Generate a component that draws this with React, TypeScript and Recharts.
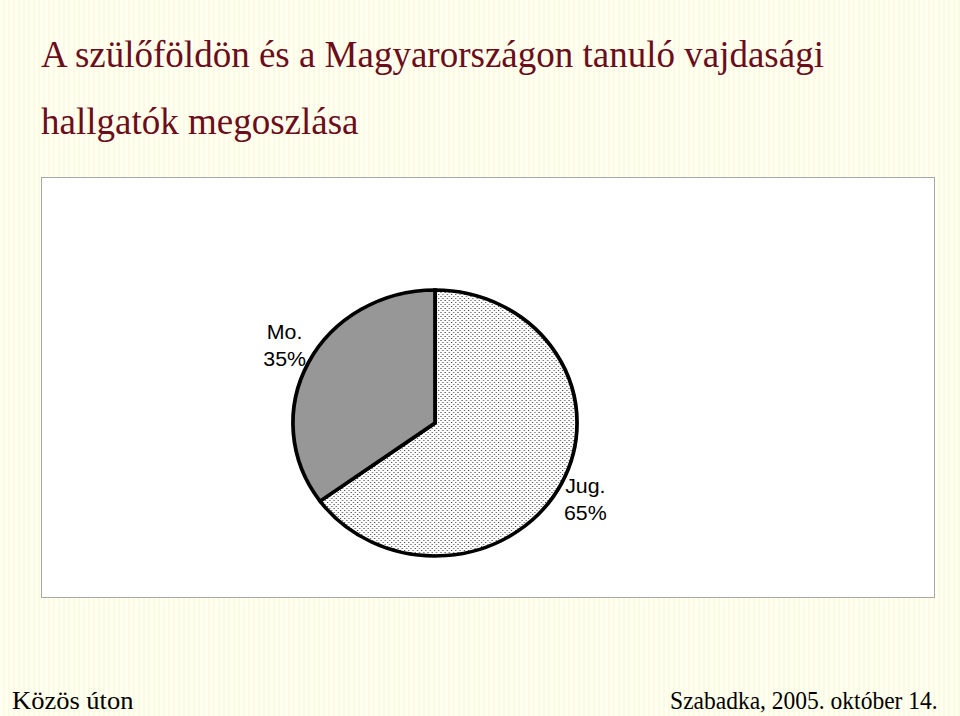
import React from 'react';
import { PieChart, Pie, Cell } from 'recharts';

// share of students from Vojvodina by place of study
const sliceNames = ['Jug.', 'Mo.'];
const sliceValues = [65, 35];
const sliceFills = ['url(#dotFill)', '#979797'];

const titleLines = ['A szülőföldön és a Magyarországon tanuló vajdasági', 'hallgatók megoszlása'];
const footerLeft = 'Közös úton';
const footerRight = 'Szabadka, 2005. október 14.';

const data = sliceNames.map((name, i) => ({ name, value: sliceValues[i] }));

const RADIAN = Math.PI / 180;
const STRETCH = 1.068; // the original pie is a little wider than tall

const renderLabel = (props: any) => {
  const { cx, cy, midAngle, name, percent } = props;
  const x = cx + 158 * Math.cos(-midAngle * RADIAN);
  const y = cy + 170 * Math.sin(-midAngle * RADIAN);
  return (
    <text
      x={x}
      y={y}
      textAnchor="middle"
      fill="#000"
      fontSize={20}
      fontFamily="'Liberation Sans', Arial, sans-serif"
    >
      <tspan x={x} dy={-7}>{name}</tspan>
      <tspan x={x} dy={27}>{`${Math.round(percent * 100)}%`}</tspan>
    </text>
  );
};

const App: React.FC = () => {
  return (
    <div
      style={{
        position: 'fixed',
        left: 0,
        top: 0,
        width: 960,
        height: 716,
        overflow: 'hidden',
        background:
          'repeating-linear-gradient(90deg, #fffff2 0px, #fffff2 3px, #fbfbe2 3px, #fbfbe2 5px)',
        fontFamily: "'Liberation Serif', 'Times New Roman', serif",
      }}
    >
      <div style={{ position: 'absolute', left: 41, top: 21, color: '#6b0d1b', fontSize: 37, lineHeight: '67px', whiteSpace: 'nowrap' }}>
        {titleLines.map((t) => (
          <div key={t}>{t}</div>
        ))}
      </div>

      <div
        style={{
          position: 'absolute',
          left: 41,
          top: 177,
          width: 892,
          height: 419,
          background: '#ffffff',
          border: '1px solid #a8a8a8',
          overflow: 'hidden',
        }}
      >
        <div style={{ transform: `scaleX(${STRETCH})`, transformOrigin: '393px 0px' }}>
          <PieChart width={892} height={419}>
            <defs>
              <pattern id="dotFill" width="4" height="4" patternUnits="userSpaceOnUse">
                <rect width="4" height="4" fill="#ffffff" />
                <rect x="0" y="0" width="1" height="1" fill="#3a3a3a" />
                <rect x="2" y="2" width="1" height="1" fill="#3a3a3a" />
              </pattern>
            </defs>
            <Pie
              data={data}
              dataKey="value"
              nameKey="name"
              cx={388}
              cy={240}
              outerRadius={133}
              startAngle={90}
              endAngle={-270}
              stroke="#000000"
              strokeWidth={3.5}
              label={renderLabel}
              labelLine={false}
              isAnimationActive={false}
            >
              {data.map((d, i) => (
                <Cell key={d.name} fill={sliceFills[i]} />
              ))}
            </Pie>
          </PieChart>
        </div>
      </div>

      <div style={{ position: 'absolute', left: 12, top: 687, fontSize: 25, color: '#000', transform: 'scaleX(1.06)', transformOrigin: 'left top', whiteSpace: 'nowrap' }}>
        {footerLeft}
      </div>
      <div style={{ position: 'absolute', right: 22, top: 687, fontSize: 25, color: '#000', transform: 'scaleX(0.94)', transformOrigin: 'right top', whiteSpace: 'nowrap' }}>
        {footerRight}
      </div>
    </div>
  );
};

export default App;
